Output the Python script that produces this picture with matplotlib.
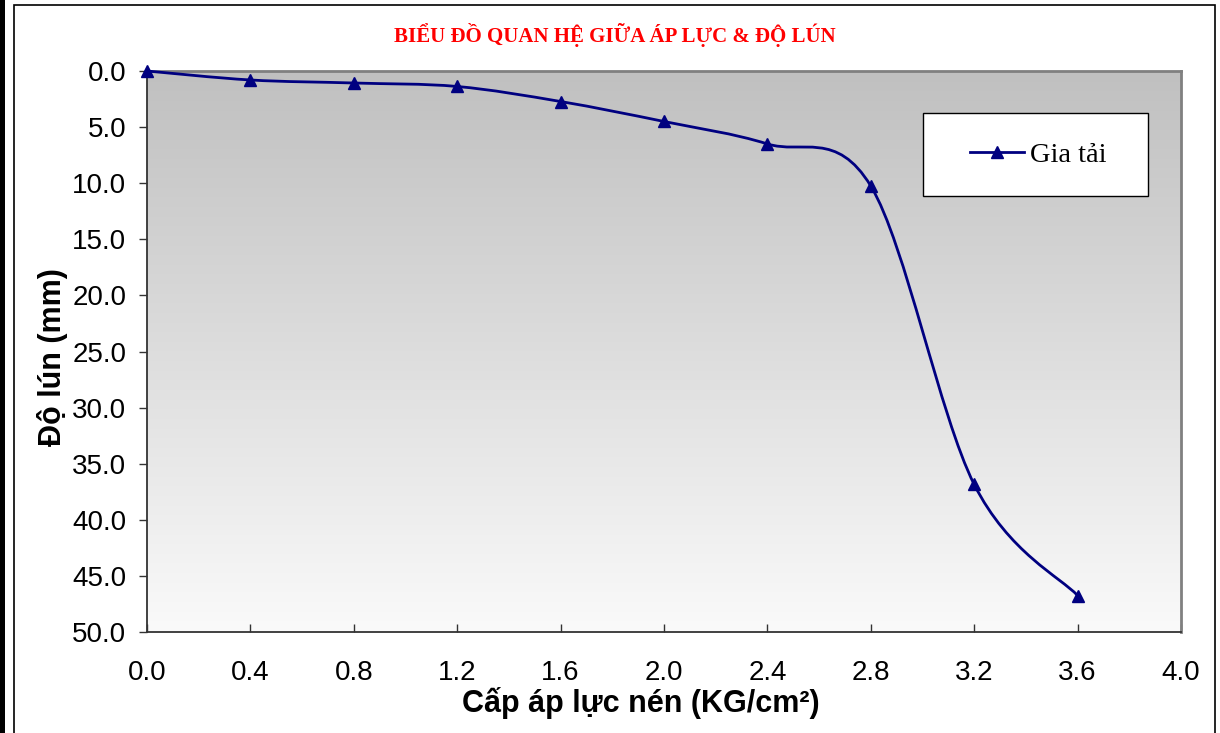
import numpy as np
import matplotlib
matplotlib.use("Agg")
import matplotlib.pyplot as plt
from matplotlib.path import Path
from matplotlib.patches import PathPatch, Rectangle
from matplotlib.lines import Line2D

# ---- data ----
ap_luc = [0.0, 0.4, 0.8, 1.2, 1.6, 2.0, 2.4, 2.8, 3.2, 3.6]
do_lun = [0.0, 0.8, 1.07, 1.38, 2.72, 4.5, 6.5, 10.25, 36.85, 46.75]
x_ticks = [0.0, 0.4, 0.8, 1.2, 1.6, 2.0, 2.4, 2.8, 3.2, 3.6, 4.0]
y_ticks = [0, 5, 10, 15, 20, 25, 30, 35, 40, 45, 50]
title = "BIỂU ĐỒ QUAN HỆ GIỮA ÁP LỰC & ĐỘ LÚN"
x_label = "Cấp áp lực nén (KG/cm²)"
y_label = "Độ lún (mm)"
series_name = "Gia tải"

W, H = 1220, 733
fig = plt.figure(figsize=(W / 100, H / 100), dpi=100)
fig.patch.set_facecolor("white")

def fx(px):
    return px / W

def fy(py):
    return 1 - py / H

# outer decorations
fig.add_artist(Rectangle((0, 0), fx(5), 1, transform=fig.transFigure,
                         facecolor="black", edgecolor="none"))
fig.add_artist(Rectangle((fx(14), -0.01), fx(1215) - fx(14), fy(5) + 0.01,
                         transform=fig.transFigure, facecolor="none",
                         edgecolor="black", linewidth=1.2))

L, R, T, B = 147, 1181, 71, 632
ax = fig.add_axes([fx(L), fy(B), fx(R) - fx(L), fy(T) - fy(B)])

# gradient background
grad = np.linspace(192, 250, 256)[:, None] / 255.0
img = np.dstack([grad, grad, grad])
ax.imshow(img, extent=[0, 1, 0, 1], transform=ax.transAxes, aspect="auto",
          origin="upper", zorder=0, interpolation="bilinear")

ax.set_xlim(0, 4.0)
ax.set_ylim(50, 0)

# smoothed line (Catmull-Rom style Bezier through the data points)
pts = np.column_stack([ap_luc, do_lun])
n = len(pts)
verts = [pts[0]]
codes = [Path.MOVETO]
for i in range(n - 1):
    p0 = pts[i - 1] if i > 0 else pts[i]
    p1 = pts[i]
    p2 = pts[i + 1]
    p3 = pts[i + 2] if i + 2 < n else pts[i + 1]
    c1 = p1 + (p2 - p0) / 6.0
    c2 = p2 - (p3 - p1) / 6.0
    verts += [c1, c2, p2]
    codes += [Path.CURVE4] * 3
ax.add_patch(PathPatch(Path(verts, codes), facecolor="none", edgecolor="#000080",
                       linewidth=2.0, zorder=3, clip_on=False))
ax.plot(ap_luc, do_lun, linestyle="none", marker="^", markersize=9,
        color="#000080", zorder=4, clip_on=False)

# spines
for s in ["left", "bottom"]:
    ax.spines[s].set_color("#333333")
    ax.spines[s].set_linewidth(1.3)
for s in ["top", "right"]:
    ax.spines[s].set_color("#808080")
    ax.spines[s].set_linewidth(2.0)

ax.set_xticks(x_ticks)
ax.set_xticklabels([f"{v:.1f}" for v in x_ticks])
ax.set_yticks(y_ticks)
ax.set_yticklabels([f"{v:.1f}" for v in y_ticks])
ax.tick_params(axis="x", direction="in", length=6, width=1, color="#333333",
               pad=20.5, labelsize=20)
ax.tick_params(axis="y", direction="out", length=6, width=1, color="#333333",
               pad=9, labelsize=20)
for lab in ax.get_xticklabels() + ax.get_yticklabels():
    lab.set_fontfamily("Liberation Sans")

# title and axis labels
fig.text(fx(615), fy(35), title, ha="center", va="center", color="#ff0000",
         fontsize=15, fontweight="bold", family=["Liberation Serif", "DejaVu Serif"])
fig.text(fx(641), fy(703), x_label, ha="center", va="center", fontsize=22,
         fontweight="bold", family=["Liberation Sans", "DejaVu Sans"])
fig.text(fx(52), fy(357), y_label, ha="center", va="center", rotation=90,
         fontsize=22, fontweight="bold", family=["Liberation Sans", "DejaVu Sans"])

# legend box
fig.add_artist(Rectangle((fx(923), fy(196)), fx(1148) - fx(923), fy(113) - fy(196),
                         transform=fig.transFigure, facecolor="white",
                         edgecolor="black", linewidth=1.0, zorder=5))
handle = Line2D([], [], color="#000080", linewidth=2.0, marker="^", markersize=9)
leg = fig.legend([handle], [series_name], loc="center",
                 bbox_to_anchor=(fx(1038), fy(155)), frameon=False,
                 handlelength=1.9, handletextpad=0.2,
                 prop={"family": ["Liberation Serif", "DejaVu Serif"], "size": 20.5})
leg.set_zorder(6)

fig.savefig("out.png", dpi=100)
